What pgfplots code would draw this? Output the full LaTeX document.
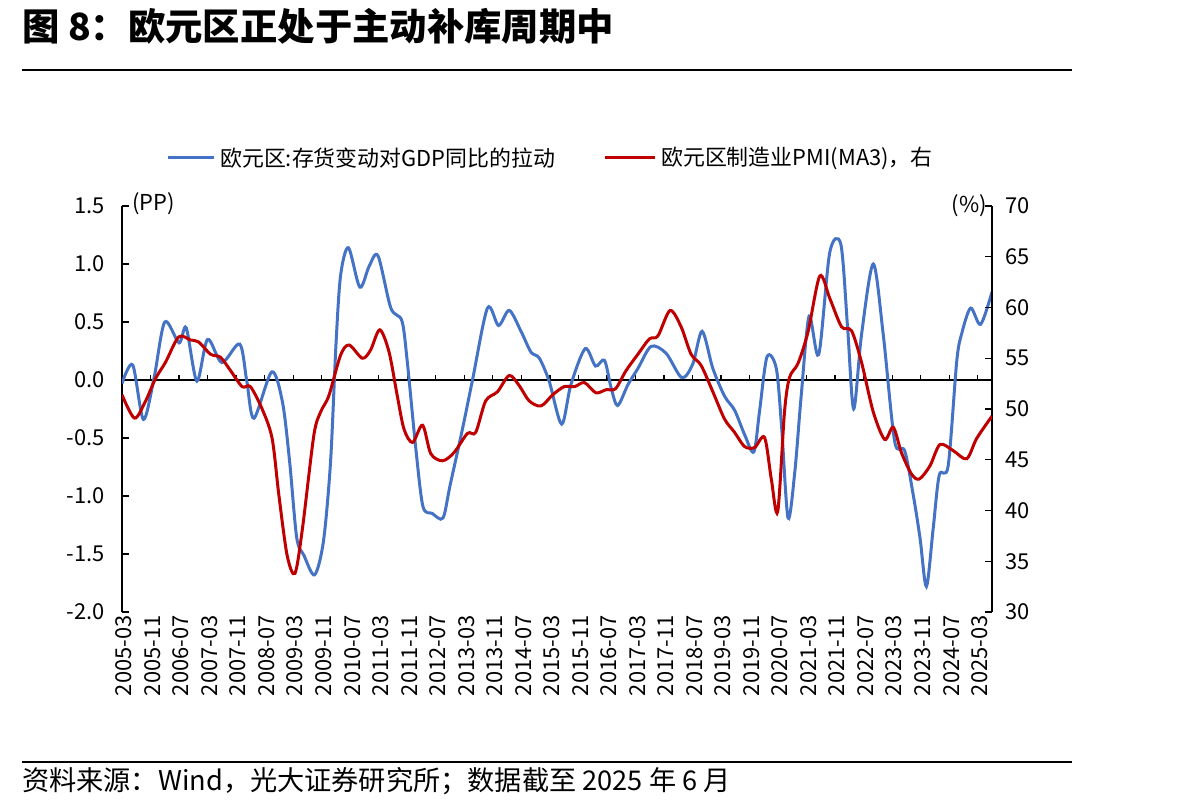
\documentclass[border=0pt]{standalone}
\usepackage{pgfplots}
\pgfplotsset{compat=1.18}
\usepackage{fontspec}
\setmainfont{Noto Sans CJK SC}

\definecolor{invblue}{RGB}{68,114,196}
\definecolor{pmired}{RGB}{192,0,0}

% Inventory change contribution to euro area GDP growth (pp); x = months since 2005-03
\pgfplotstableread{
m v
0 -0.03
3 0.13
6 -0.34
9 0.02
12 0.50
16 0.32
18 0.45
21 -0.01
24 0.35
28 0.15
33 0.31
35 -0.01
37 -0.33
42 0.07
45 -0.19
47 -0.70
49 -1.36
51 -1.51
54 -1.68
56.5 -1.39
58.5 -0.70
60 0.30
61.3 0.90
63.5 1.14
66.7 0.80
69.3 0.98
71.8 1.07
75.4 0.62
78.5 0.51
80 0.16
82.4 -0.59
84.4 -1.09
87 -1.15
90 -1.19
92 -0.91
95.5 -0.42
98.3 0.00
102.5 0.62
105.6 0.47
108.6 0.60
111.9 0.42
114.7 0.24
117 0.19
119.8 -0.01
123.3 -0.38
125.9 -0.04
129.9 0.27
132.8 0.12
135.3 0.17
137.2 -0.07
139 -0.22
141.9 -0.04
144.7 0.10
148.4 0.29
152.6 0.23
157 0.02
160.1 0.14
162.7 0.42
165.7 0.10
169 -0.14
171.8 -0.26
174.6 -0.47
177.2 -0.62
178.8 -0.27
180.9 0.20
183.5 0.10
185 -0.41
186.8 -1.19
188.7 -0.79
190.5 -0.13
192.7 0.55
195.4 0.22
198.5 1.10
201.6 1.17
203.5 0.45
205.2 -0.25
207.4 0.39
210.7 1.00
213.5 0.39
216.7 -0.53
219.5 -0.61
221.9 -0.99
223.8 -1.36
225.6 -1.78
227.5 -1.28
229.2 -0.82
231.7 -0.74
234.1 0.16
235.5 0.40
238 0.62
240.8 0.48
244 0.76
}\invtable

% Euro area manufacturing PMI, 3-month average
\pgfplotstableread{
m v
0 51.4
3.5 49.1
6.5 50.7
9.4 53.0
12.2 54.6
15.9 57.1
19.2 56.8
21.5 56.6
24.8 55.4
27.6 55.1
30.4 53.8
33.7 52.2
36 52.2
39.3 50.0
42.1 47.1
44 41.5
46.3 35.6
48.5 33.8
50.6 38.2
53.8 47.4
55.7 49.7
58 51.3
61.3 55.3
63.7 56.3
67.4 55.0
69.7 55.8
72.3 57.8
74.9 55.6
77.2 51.3
79.1 48.0
81.5 46.7
84.3 48.4
86.6 45.6
89.9 44.9
93.1 45.7
96.9 47.6
99.2 47.7
102 50.8
105.3 51.7
108.6 53.3
111.4 52.3
114.2 50.8
117.5 50.3
120.8 51.4
124 52.2
126.9 52.2
129.7 52.6
132.9 51.6
135.8 51.9
138.4 52.0
141.4 53.8
144.7 55.4
147.9 56.9
150.3 57.2
153.7 59.7
156.8 58.1
159.6 55.4
162.4 54.3
165.7 51.7
169 49.0
171.8 47.7
174.6 46.3
177.4 46.2
180.2 47.2
182.1 43.1
183.9 39.9
185.8 49.7
187.2 53.1
189.6 54.5
192.4 57.6
195.7 63.1
198.5 60.9
201.8 58.1
204.6 57.7
207.4 54.6
210.7 49.7
213.9 47.0
216.3 48.2
218.6 45.7
221.4 43.6
223.6 43.1
226.6 44.4
229.4 46.5
233.1 45.9
236.9 45.1
239.7 47.1
244 49.3
}\pmitable

\begin{document}
\begin{tikzpicture}[x=1bp,y=1bp]
\path[use as bounding box] (0,0) rectangle (1180,811);

% title and rules
\node[anchor=west,inner sep=0,font=\fontsize{37.5}{42}\selectfont\bfseries] at (22,785) {图 8：欧元区正处于主动补库周期中};
\draw[line width=1.5bp] (22,741) -- (1072,741);
\draw[line width=1.5bp] (22,49) -- (1072,49);
\node[anchor=west,inner sep=0,font=\fontsize{27.3}{31}\selectfont] at (22,30) {资料来源：Wind，光大证券研究所；数据截至 2025 年 6 月};

% legend
\draw[invblue,line width=3bp] (168,653) -- (214,653);
\node[anchor=west,inner sep=0,font=\fontsize{22}{26}\selectfont] at (220,653) {欧元区:存货变动对GDP同比的拉动};
\draw[pmired,line width=3bp] (605,653) -- (655,653);
\node[anchor=west,inner sep=0,font=\fontsize{22}{26}\selectfont] at (661,653) {欧元区制造业PMI(MA3)，右};

% unit labels
\node[anchor=west,inner sep=0,font=\fontsize{22}{26}\selectfont] at (132,607) {(PP)};
\node[anchor=east,inner sep=0,font=\fontsize{22}{26}\selectfont] at (987,605) {(\%)};

\pgfplotsset{
  chartbase/.style={
    at={(122bp,199bp)}, anchor=south west,
    scale only axis, width=870bp, height=406bp,
    xmin=0, xmax=244,
    axis line style={line width=1.3bp, black},
    tick style={line width=1.3bp, black},
    tick align=inside,
    major tick length=7bp,
    ticklabel style={font=\fontsize{22}{26}\selectfont},
    /pgf/number format/assume math mode=true,
  }
}

\begin{axis}[
  chartbase,
  ymin=-2, ymax=1.5,
  axis y line*=left,
  axis x line*=bottom,
  x axis line style={draw=none},
  xtick={0,8,...,240},
  xticklabels={2005-03,2005-11,2006-07,2007-03,2007-11,2008-07,2009-03,2009-11,2010-07,2011-03,2011-11,2012-07,2013-03,2013-11,2014-07,2015-03,2015-11,2016-07,2017-03,2017-11,2018-07,2019-03,2019-11,2020-07,2021-03,2021-11,2022-07,2023-03,2023-11,2024-07,2025-03},
  xtick style={draw=none},
  xticklabel style={rotate=90, anchor=east, yshift=-2bp},
  ytick={-2,-1.5,...,1.5},
  yticklabel style={xshift=-14bp},
  y tick label style={/pgf/number format/fixed, /pgf/number format/fixed zerofill, /pgf/number format/precision=1},
]
% zero line with upward category ticks
\draw[line width=1.3bp] (axis cs:0,0) -- (axis cs:244,0);
\pgfplotsinvokeforeach{8,16,...,240}{\draw[line width=1.3bp] (axis cs:#1,0) -- ([yshift=5bp]axis cs:#1,0);}
\addplot[invblue, line width=3bp, smooth, no markers] table[x=m, y=v] {\invtable};
\end{axis}

\begin{axis}[
  chartbase,
  ymin=30, ymax=70,
  axis y line*=right,
  axis x line=none,
  ytick={30,35,...,70},
  yticklabel style={xshift=10bp},
]
\addplot[pmired, line width=3bp, smooth, no markers] table[x=m, y=v] {\pmitable};
\end{axis}
\end{tikzpicture}
\end{document}
